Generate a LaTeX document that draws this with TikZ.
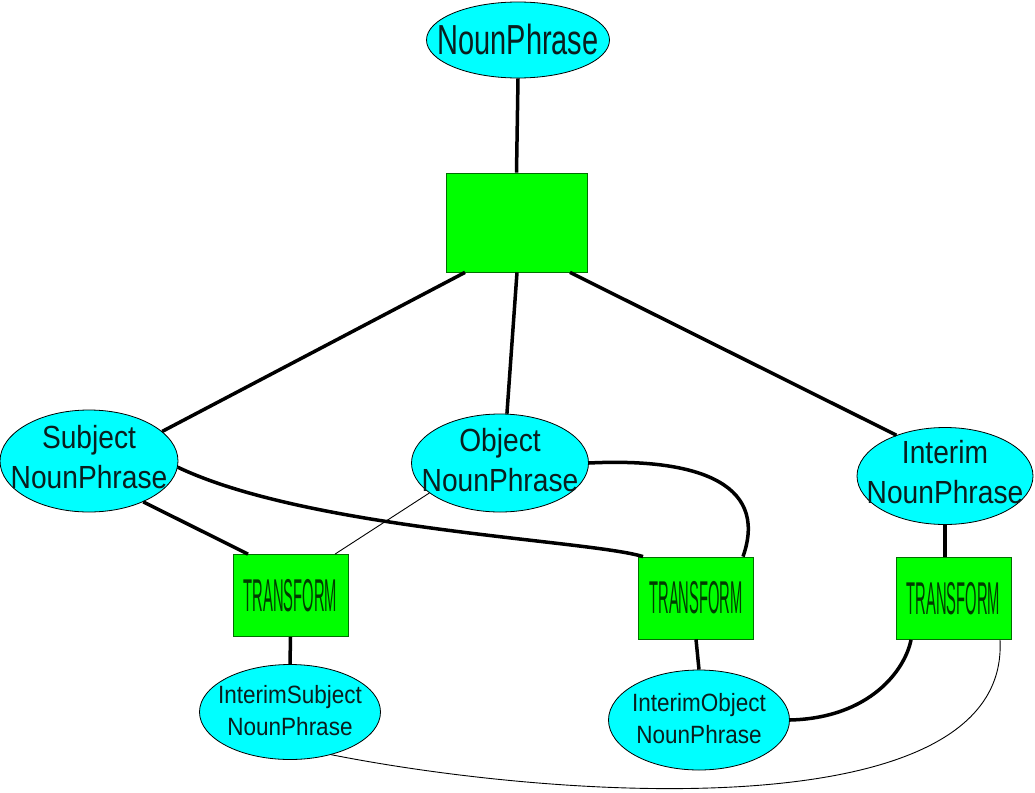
\documentclass[tikz,border=0pt]{standalone}
\usepackage{fontspec}
\setmainfont{Liberation Sans}
\newfontfamily\fTop[FakeStretch=0.69]{Liberation Sans}
\newfontfamily\fMid[FakeStretch=0.88]{Liberation Sans}
\newfontfamily\fLow[FakeStretch=0.9]{Liberation Sans}
\newfontfamily\fTr[FakeStretch=0.32]{Liberation Sans}
\usetikzlibrary{shapes.geometric}
\definecolor{npfill}{RGB}{0,255,255}
\definecolor{boxfill}{RGB}{0,255,0}
\definecolor{boxedge}{RGB}{0,110,0}
\definecolor{trtext}{RGB}{0,60,0}
\definecolor{txt}{RGB}{10,30,30}
\begin{document}
\begin{tikzpicture}[x=1pt,y=-1pt,
  np/.style={ellipse, draw=black, line width=0.8pt, fill=npfill, inner sep=0pt},
  lbl/.style={align=center, text=txt, inner sep=0pt},
  box/.style={rectangle, draw=boxedge, line width=0.8pt, fill=boxfill, inner sep=0pt},
  trbox/.style={box, minimum width=115pt, minimum height=82pt, text=trtext, font=\fTr\fontsize{46}{46}\selectfont},
  thk/.style={line width=3.5pt},
  thn/.style={line width=0.9pt}]
\useasboundingbox (0,0) rectangle (1035,792);

\node[np, minimum width=183pt, minimum height=76pt,
  label={[lbl, font=\fTop\fontsize{42}{46}\selectfont, yshift=1pt]center:NounPhrase}] (np) at (518,40) {};
\node[box, minimum width=141pt, minimum height=99pt] (top) at (516.5,222.5) {};
\node[np, minimum width=178pt, minimum height=102pt,
  label={[lbl, font=\fMid\fontsize{32}{40}\selectfont, yshift=4pt]center:Subject\\NounPhrase}] (subj) at (89,461) {};
\node[np, minimum width=177pt, minimum height=98pt,
  label={[lbl, font=\fMid\fontsize{32}{40}\selectfont, yshift=3pt]center:Object\\NounPhrase}] (obj) at (500,463) {};
\node[np, minimum width=176pt, minimum height=97pt,
  label={[lbl, font=\fMid\fontsize{32}{40}\selectfont, yshift=4pt]center:Interim\\NounPhrase}] (int) at (945,476) {};
\node[trbox] (t1) at (290.5,595.5) {TRANSFORM};
\node[trbox] (t2) at (696,598) {TRANSFORM};
\node[trbox] (t3) at (953.5,598.5) {TRANSFORM};
\node[np, minimum width=181pt, minimum height=95pt,
  label={[lbl, font=\fLow\fontsize{25}{32}\selectfont, yshift=1pt]center:InterimSubject\\NounPhrase}] (isub) at (290,712) {};
\node[np, minimum width=181pt, minimum height=100pt,
  label={[lbl, font=\fLow\fontsize{25}{32}\selectfont, yshift=1pt]center:InterimObject\\NounPhrase}] (iobj) at (699,720) {};

\draw[thk] (np.south) -- (top.north);
\draw[thk] ([xshift=-51.5pt]top.south) -- (subj.22);
\draw[thk] ([xshift=0.5pt]top.south) -- (obj.82);
\draw[thk] ([xshift=53.5pt]top.south) -- (int.140);
\draw[thk] (subj.-37) -- ([xshift=-42.5pt]t1.north);
\draw[thk] (subj.-4) .. controls (310,530) and (590,540) .. ([xshift=-53pt]t2.north);
\draw[thn] (obj.203) -- ([xshift=44.5pt]t1.north);
\draw[thk] (obj.east) .. controls (690,458) and (770,480) .. ([xshift=47pt]t2.north);
\draw[thk] (t1.south) -- (isub.north);
\draw[thk] (t2.south) -- (iobj.north);
\draw[thk] (int.south) -- (int.south |- t3.north);
\draw[thk] (iobj.east) .. controls (870,718) and (905,670) .. ([xshift=-42.5pt]t3.south);
\draw[thn] ([xshift=46.5pt]t3.south) .. controls (1010,830) and (560,800) .. (isub.-46);
\end{tikzpicture}
\end{document}
